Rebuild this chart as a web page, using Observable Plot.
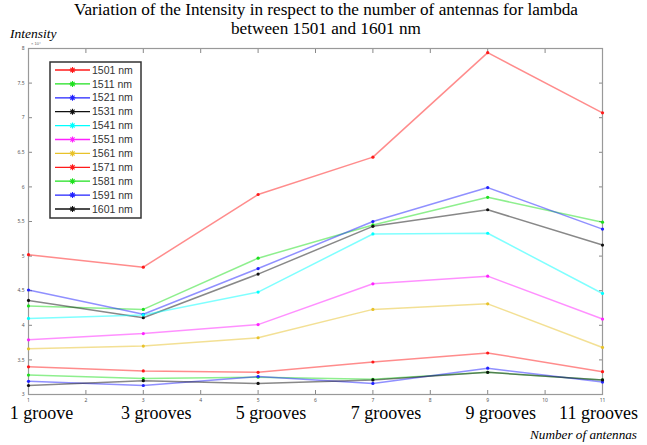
<!DOCTYPE html>
<html><head><meta charset="utf-8">
<script src="https://cdn.jsdelivr.net/npm/d3@7"></script>
<script src="https://cdn.jsdelivr.net/npm/@observablehq/plot@0.6"></script>
<style>
body{margin:0;background:#fff}
#wrap{position:relative;width:647px;height:445px;overflow:hidden}
.t{position:absolute;font-family:"Liberation Serif","Times New Roman",serif;color:#000;white-space:nowrap}
</style>
</head><body>
<div id="wrap">
  <div id="chart"></div>
  <div class="t" style="left:0;width:652px;top:0px;text-align:center;font-size:17.2px;line-height:19px">Variation of the Intensity in respect to the number of antennas for lambda<br>between 1501 and 1601 nm</div>
  <div class="t" style="left:10px;top:26px;font-size:13.5px;font-style:italic">Intensity</div>
  <div class="t" style="right:10px;top:427px;font-size:13.2px;font-style:italic">Number of antennas</div>
  <div class="t" style="left:31px;top:41px;font-size:4px;font-family:'Liberation Sans',sans-serif;color:#666">× 10⁴</div>
</div>
<script>
const antennas = [1, 3, 5, 7, 9, 11];
const grooveLabels = ["1 groove", "3 grooves", "5 grooves", "7 grooves", "9 grooves", "11 grooves"];
const wavelengths = ["1501 nm", "1511 nm", "1521 nm", "1531 nm", "1541 nm", "1551 nm", "1561 nm", "1571 nm", "1581 nm", "1591 nm", "1601 nm"];
const colors = ["#ff1a1a", "#1ee01e", "#2222ff", "#111111", "#00ffff", "#ff22ff", "#e8c22a", "#ff1a1a", "#1ee01e", "#2222ff", "#111111"];
const yTicks = [3, 3.5, 4, 4.5, 5, 5.5, 6, 6.5, 7, 7.5, 8];
const xTicks = [1, 2, 3, 4, 5, 6, 7, 8, 9, 10, 11];

const s1501 = [5.02, 4.84, 5.89, 6.43, 7.94, 7.07];
const s1511 = [4.28, 4.23, 4.97, 5.45, 5.85, 5.49];
const s1521 = [4.51, 4.16, 4.82, 5.50, 5.99, 5.39];
const s1531 = [4.36, 4.11, 4.74, 5.43, 5.67, 5.16];
const s1541 = [4.10, 4.15, 4.48, 5.32, 5.33, 4.46];
const s1551 = [3.79, 3.88, 4.01, 4.60, 4.71, 4.09];
const s1561 = [3.66, 3.70, 3.82, 4.23, 4.31, 3.68];
const s1571 = [3.40, 3.34, 3.32, 3.47, 3.60, 3.33];
const s1581 = [3.28, 3.23, 3.25, 3.22, 3.32, 3.21];
const s1591 = [3.19, 3.13, 3.26, 3.16, 3.38, 3.18];
const s1601 = [3.13, 3.20, 3.16, 3.21, 3.32, 3.21];
const series = [s1501, s1511, s1521, s1531, s1541, s1551, s1561, s1571, s1581, s1591, s1601];

const table = series.flatMap((vals, k) => vals.map((v, i) => ({wl: wavelengths[k], n: antennas[i], v})));

const chart = Plot.plot({
  width: 647, height: 445,
  marginTop: 48, marginLeft: 28, marginRight: 45, marginBottom: 51,
  x: {domain: [1, 11]},
  y: {domain: [3, 8]},
  color: {domain: wavelengths, range: colors},
  style: {background: "transparent", color: "#555"},
  marks: [
    Plot.axisX({anchor: "bottom", ticks: xTicks, tickSize: -4, tickPadding: 8, fontSize: 5, stroke: "#888", fill: "#555", label: null}),
    Plot.axisX({anchor: "top", ticks: xTicks, tickSize: -4, tickFormat: () => "", stroke: "#888", label: null}),
    Plot.axisY({anchor: "left", ticks: yTicks, tickSize: -4, tickPadding: 8, fontSize: 5, stroke: "#888", fill: "#555", tickFormat: d => String(d), label: null}),
    Plot.axisY({anchor: "right", ticks: yTicks, tickSize: -4, tickFormat: () => "", stroke: "#888", label: null}),
    Plot.frame({stroke: "#999", strokeWidth: 1.2}),
    Plot.line(table, {x: "n", y: "v", z: "wl", stroke: "wl", strokeOpacity: 0.5, strokeWidth: 1.5}),
    Plot.dot(table, {x: "n", y: "v", fill: "wl", r: 1.6}),
    Plot.text(antennas, {x: d => d, text: (d, i) => grooveLabels[i], filter: (d, i) => i < 5, frameAnchor: "bottom", dy: 24, dx: 13, fontSize: 18, fontFamily: "Liberation Serif, serif", fill: "#000"}),
    Plot.text(antennas, {x: d => d, text: (d, i) => grooveLabels[i], filter: (d, i) => i === 5, frameAnchor: "bottom", dy: 24, dx: -4, fontSize: 18, fontFamily: "Liberation Serif, serif", fill: "#000"})
  ]
});
document.getElementById("chart").appendChild(chart);

// legend
const lg = d3.select("#wrap").append("svg")
  .attr("width", 93).attr("height", 158)
  .style("position", "absolute").style("left", "49px").style("top", "61px");
lg.append("rect").attr("x", 1).attr("y", 1).attr("width", 91).attr("height", 156)
  .attr("fill", "#fff").attr("stroke", "#333").attr("stroke-width", 1.5);
wavelengths.forEach((w, i) => {
  const y = 9 + i * 13.9;
  const g = lg.append("g").attr("transform", `translate(0,${y})`);
  g.append("line").attr("x1", 6).attr("x2", 41).attr("stroke", colors[i]).attr("stroke-width", 1.3);
  g.append("path").attr("transform", "translate(23.5,0)")
    .attr("d", "M-3,0H3M0,-3V3M-2.1,-2.1L2.1,2.1M-2.1,2.1L2.1,-2.1")
    .attr("stroke", colors[i]).attr("stroke-width", 1.1);
  g.append("text").attr("x", 43).attr("y", 0).attr("dy", "0.35em")
    .attr("font-size", 10.5).attr("font-family", "Liberation Sans, Arial, sans-serif")
    .attr("fill", "#333").text(w);
});
</script>
</body></html>
